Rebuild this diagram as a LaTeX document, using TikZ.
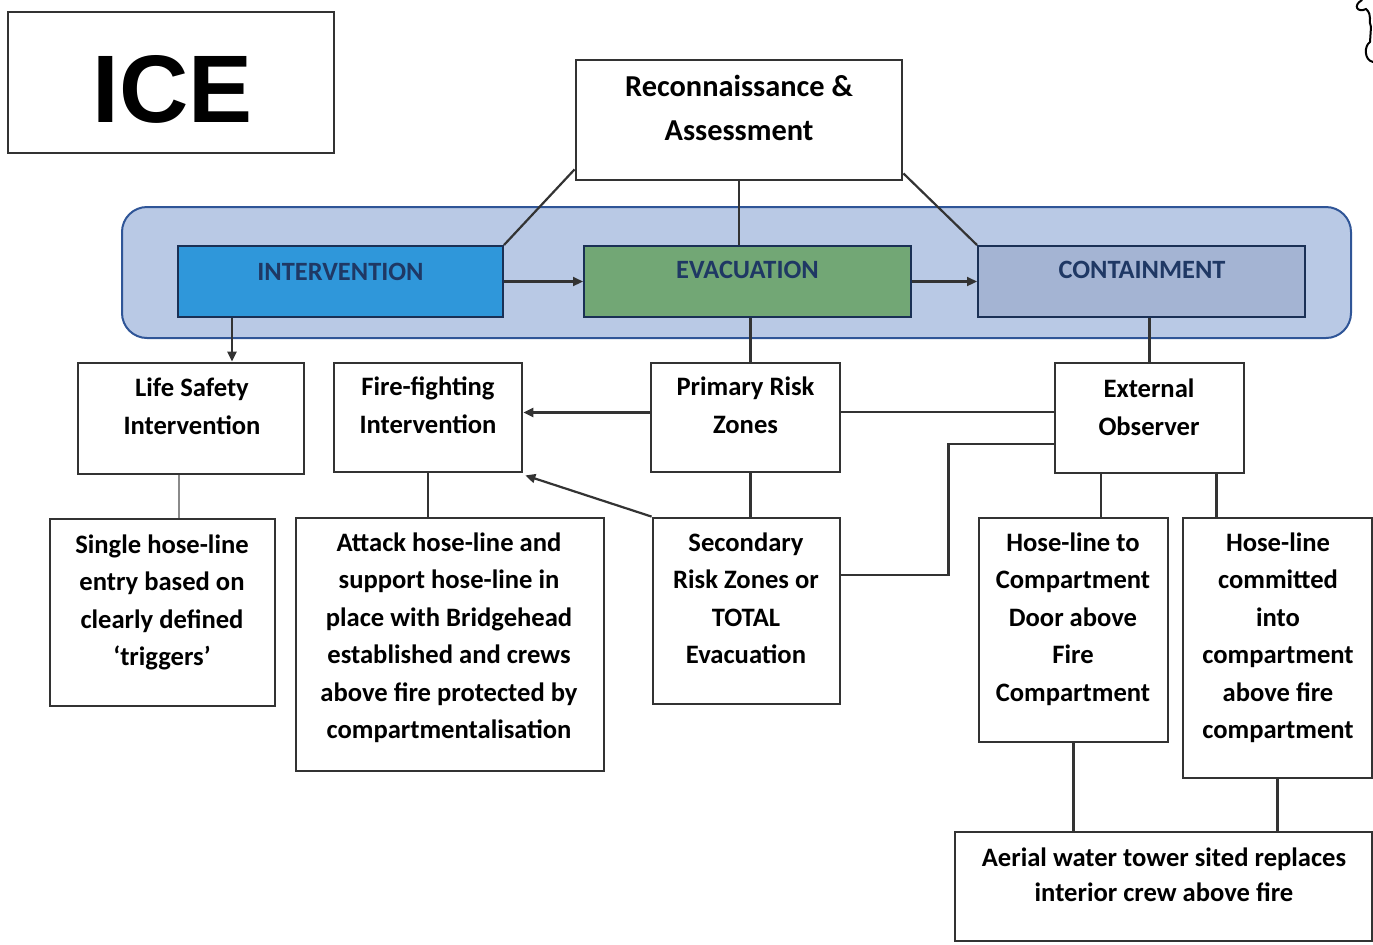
\documentclass[tikz,border=0pt]{standalone}
\usepackage{fontspec}
\setmainfont{Carlito}
\newfontfamily\icefont{Liberation Sans}
\usetikzlibrary{arrows.meta,fit,calc}
\definecolor{bandfill}{HTML}{B9C9E5}
\definecolor{bandline}{HTML}{2F5597}
\definecolor{intfill}{HTML}{2F97DA}
\definecolor{evafill}{HTML}{72A775}
\definecolor{confill}{HTML}{A4B4D3}
\definecolor{navy}{HTML}{1F3864}
\definecolor{edge}{HTML}{333333}
\definecolor{softline}{HTML}{8A8A8A}
\begin{document}
\begin{tikzpicture}[x=0.5pt,y=-0.5pt,
  box/.style={draw=edge,line width=1.4pt,fill=white,inner sep=0pt},
  phase/.style={draw=navy!85!black,line width=1pt,inner sep=0pt},
  conn/.style={draw=edge,line width=1.1pt},
  arr/.style={conn,-{Triangle[length=5pt,width=4.5pt]}},
  % multi-line labels are placed by the baseline of their last line
  txt/.style={align=center,inner sep=0pt,anchor=base,
    font=\bfseries\fontsize{13.3}{18.75}\selectfont},
  midtxt/.style={txt,font=\bfseries\fontsize{13.3}{19}\selectfont},
  toptxt/.style={txt,font=\bfseries\fontsize{15.2}{22}\selectfont},
  phtxt/.style={txt,text=navy,font=\bfseries\fontsize{13.2}{16}\selectfont},
]
\useasboundingbox (0,0) rectangle (1373,944);

% phase band
\node[fit={(122,207)(1351,338)},draw=bandline,fill=bandfill,
      rounded corners=12.5pt,line width=1pt,inner sep=0pt] (band) {};

% title
\node[box,fit={(8,12)(334,153)}] (ice) {};
\node[anchor=base,inner sep=0pt,font=\icefont\bfseries\fontsize{48}{48}\selectfont] (icet) at (173,122) {ICE};

% scribble cut off at the top right edge
\draw[line width=1pt,line cap=round]
  (1362,0) .. controls (1352,6) and (1358,13) .. (1366,9)
  .. controls (1373,15) and (1368,22) .. (1371,27)
  -- (1370,42)
  .. controls (1364,46) and (1364,60) .. (1373,62);

% reconnaissance
\node[box,fit={(576,60)(902,180)}] (rec) {};
\node[toptxt] (rect) at (739,140) {Reconnaissance \&\\Assessment};

% phases
\node[phase,fill=intfill,fit={(178,246)(503,317)}] (int) {};
\node[phase,fill=evafill,fit={(584,246)(911,317)}] (eva) {};
\node[phase,fill=confill,fit={(978,246)(1305,317)}] (con) {};
\node[phtxt] (intt) at (340.5,280) {INTERVENTION};
\node[phtxt] (evat) at (747.5,278) {EVACUATION};
\node[phtxt] (cont) at (1142,278) {CONTAINMENT};

% second row
\node[box,fit={(78,363)(304,474)}] (ls) {};
\node[box,fit={(334,363)(522,472)}] (ff) {};
\node[box,fit={(651,363)(840,472)}] (pr) {};
\node[box,fit={(1055,363)(1244,473)}] (obs) {};
\node[midtxt] (lst) at (192,434) {Life Safety\\Intervention};
\node[midtxt] (fft) at (428,433) {Fire-fighting\\Intervention};
\node[midtxt] (prt) at (745.5,433) {Primary Risk\\Zones};
\node[midtxt] (obst) at (1149,435) {External\\Observer};

% third row
\node[box,fit={(50,519)(275,706)}] (sh) {};
\node[box,fit={(296,518)(604,771)}] (at) {};
\node[box,fit={(653,518)(840,704)}] (sec) {};
\node[box,fit={(979,518)(1168,742)}] (hc) {};
\node[box,fit={(1183,518)(1372,778)}] (cm) {};
\node[txt] (sht) at (162,665.5) {Single hose-line\\entry based on\\clearly defined\\‘triggers’};
\node[txt] (att) at (449,738.5) {Attack hose-line and\\support hose-line in\\place with Bridgehead\\established and crews\\above fire protected by\\compartmentalisation};
\node[txt] (sect) at (746,663.5) {Secondary\\Risk Zones or\\TOTAL\\Evacuation};
\node[txt] (hct) at (1073,701) {Hose-line to\\Compartment\\Door above\\Fire\\Compartment};
\node[txt] (cmt) at (1278,738.5) {Hose-line\\committed\\into\\compartment\\above fire\\compartment};

% aerial
\node[box,fit={(955,832)(1372,941)}] (aer) {};
\node[txt,font=\bfseries\fontsize{13.3}{17.5}\selectfont] (aert) at (1164,901) {Aerial water tower sited replaces\\interior crew above fire};

% connectors: reconnaissance to phases
\draw[conn] ([yshift=6pt]rec.south west) -- (int.north east);
\draw[conn] (rec.south) -- (rec.south |- eva.north);
\draw[conn] ([yshift=4pt]rec.south east) -- (con.north west);

% phase sequence
\draw[arr] (int.east) -- (eva.west);
\draw[arr] (eva.east) -- (con.west);

% phases to second row
\draw[arr] ([xshift=27.5pt]int.south west) -- ([xshift=27.5pt]int.south west |- ls.north);
\draw[conn] ([xshift=2.5pt]pr.north |- eva.south) -- ([xshift=2.5pt]pr.north);
\draw[conn] (obs.north |- con.south) -- (obs.north);

% second row links
\draw[arr] ([yshift=2.5pt]pr.west) -- ([yshift=2.5pt]pr.west -| ff.east);
\draw[conn] ([yshift=3pt]obs.west) -- ([yshift=3pt]obs.west -| pr.east);
\draw[arr] (sec.north west) -- ([xshift=1pt,yshift=-1pt]ff.south east);
\draw[conn] ([yshift=18pt]sec.east) -- ++(107,0) |- ([yshift=-13pt]obs.west);

% second row to third row
\draw[conn,draw=softline] ([xshift=-6pt]ls.south) -- ([xshift=-6pt]ls.south |- sh.north);
\draw[conn] (ff.south) -- (ff.south |- at.north);
\draw[conn] ([xshift=2.5pt]pr.south) -- ([xshift=2.5pt]pr.south |- sec.north);
\draw[conn] ([xshift=23.5pt]obs.south west) -- ([xshift=23.5pt]obs.south west |- hc.north);
\draw[conn] ([xshift=-14.5pt]obs.south east) -- ([xshift=-14.5pt]obs.south east |- cm.north);

% third row to aerial
\draw[conn] (hc.south) -- (hc.south |- aer.north);
\draw[conn] (cm.south) -- (cm.south |- aer.north);
\end{tikzpicture}
\end{document}
